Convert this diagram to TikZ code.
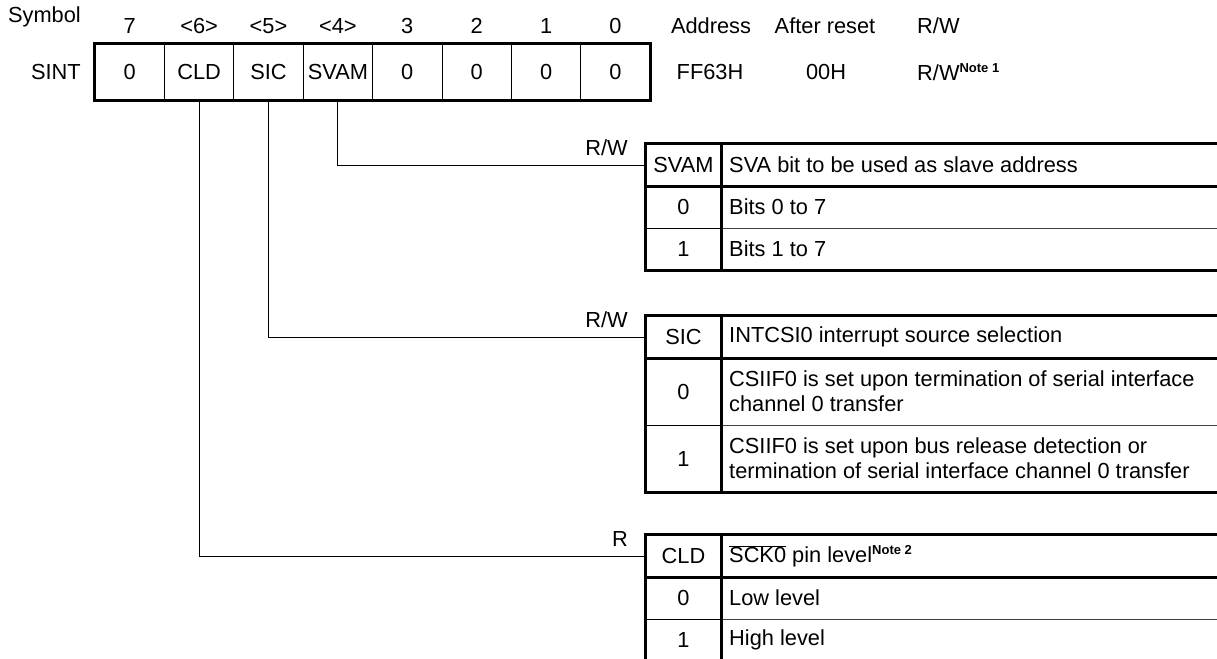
\documentclass[tikz,border=0pt]{standalone}
\usepackage{fontspec}
\setmainfont{Liberation Sans}
\usetikzlibrary{positioning}
\newcommand{\regnote}[1]{\raisebox{8pt}{\fontsize{13}{15}\selectfont\bfseries Note #1}}

\begin{document}
\begin{tikzpicture}[
    x=1pt,y=-1pt,
    every node/.style={font=\fontsize{21.8}{25}\selectfont,inner sep=0pt},
    bitcell/.style={draw,line width=0.8pt,minimum width=69.4pt,minimum height=56pt},
    keycell/.style={draw,line width=0.8pt,minimum width=75pt,minimum height=42pt},
    desc/.style={anchor=west,align=left},
    heavy/.style={line width=2.4pt,line cap=rect},
    rule/.style={line width=1pt,draw=black!75},
    wire/.style={line width=0.9pt}
  ]
  \useasboundingbox (0,0) rectangle (1217,658);
  \clip (0,0) rectangle (1217,658);

  % register SINT
  \node[anchor=east] (sym) at (81,17) {Symbol};
  \foreach \t [count=\i from 0] in {7,<6>,<5>,<4>,3,2,1,0}
    \node (n\i) at ({95+69.4*(\i+0.5)},26) {\t};
  \foreach \t [count=\i from 0] in {0,CLD,SIC,SVAM,0,0,0,0}
    \node[bitcell] (r\i) at ({95+69.4*(\i+0.5)},72) {\t};
  \draw[heavy] (r0.north west) rectangle (r7.south east);
  \node[anchor=east] (sint) at (81,72) {SINT};

  \node (addr) at (711,26) {Address};
  \node (rst) at (825,26) {After reset};
  \node[anchor=west] (rwh) at (917,26) {R/W};
  \node (addrv) at (710,72) {FF63H};
  \node (rstv) at (826,72) {00H};
  \node[anchor=west] (rwv) at (917,72) {R/W\regnote{1}};

  % SVAM table
  \node[anchor=east] (svrw) at (628,148) {R/W};
  \node[keycell] (svk) at (683.5,165) {SVAM};
  \node[keycell] (sv0) at (683.5,207) {0};
  \node[keycell] (sv1) at (683.5,249) {1};
  \node[desc] (svkd) at (729,165) {SVA bit to be used as slave address};
  \node[desc] (sv0d) at (729,207) {Bits 0 to 7};
  \node[desc] (sv1d) at (729,249) {Bits 1 to 7};
  \draw[rule] (sv0.south east) -- ++(520,0);
  \draw[heavy] (svk.north west) -- (sv1.south west) (svk.north east) -- (sv1.south east);
  \draw[heavy] (svk.north west) -- ++(600,0) (svk.south west) -- ++(600,0)
    (sv1.south west) -- ++(600,0);

  % SIC table
  \node[anchor=east] (sicrw) at (628,320) {R/W};
  \node[keycell] (sick) at (683.5,337) {SIC};
  \node[keycell,minimum height=67pt] (sic0) at (683.5,391.5) {0};
  \node[keycell,minimum height=67pt] (sic1) at (683.5,458.5) {1};
  \node[desc] (sickd) at (729,337) {INTCSI0 interrupt source selection};
  \node[desc] (sic0d) at (729,391.5) {CSIIF0 is set upon termination of serial interface\\channel 0 transfer};
  \node[desc] (sic1d) at (729,458.5) {CSIIF0 is set upon bus release detection or\\termination of serial interface channel 0 transfer};
  \draw[rule] (sic0.south east) -- ++(520,0);
  \draw[heavy] (sick.north west) -- (sic1.south west) (sick.north east) -- (sic1.south east);
  \draw[heavy] (sick.north west) -- ++(600,0) (sick.south west) -- ++(600,0)
    (sic1.south west) -- ++(600,0);

  % CLD table
  \node[anchor=east] (cldr) at (628,539) {R};
  \node[keycell] (cldk) at (683.5,556) {CLD};
  \node[keycell] (cld0) at (683.5,598) {0};
  \node[keycell] (cld1) at (683.5,640) {1};
  \node[desc] (cldkd) at (729,556) {$\overline{\mbox{SCK0}}$ pin level\regnote{2}};
  \node[desc] (cld0d) at (729,598) {Low level};
  \node[desc] (cld1d) at (729,640) {High level};
  \draw[rule] (cld0.south east) -- ++(520,0);
  \draw[heavy] (cldk.north west) -- (cld1.south west) (cldk.north east) -- (cld1.south east);
  \draw[heavy] (cldk.north west) -- ++(600,0) (cldk.south west) -- ++(600,0)
    (cld1.south west) -- ++(600,0);

  % bit connectors
  \draw[wire] (r3.south) |- (svk.west);
  \draw[wire] (r2.south) |- (sick.west);
  \draw[wire] (r1.south) |- (cldk.west);
\end{tikzpicture}
\end{document}
